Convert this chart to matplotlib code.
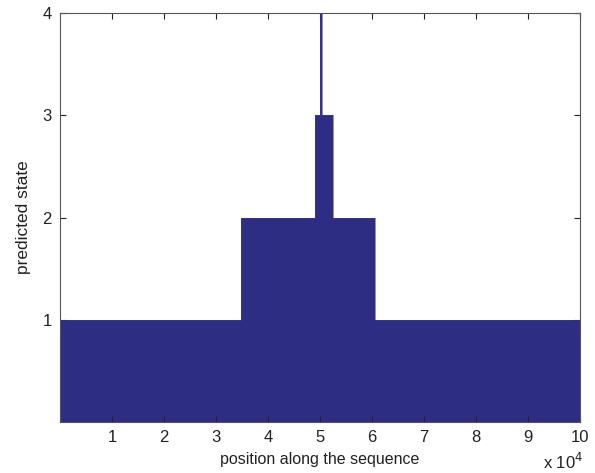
import numpy as np
import matplotlib.pyplot as plt

plt.rcParams['font.family'] = ['Liberation Sans', 'DejaVu Sans']

# segment boundaries along the sequence and the predicted state in each segment
edges = [0, 34800, 49000, 50000, 50350, 52500, 60600, 100000]
states = [1, 2, 3, 4, 3, 2, 1]

xticks = [10000, 20000, 30000, 40000, 50000, 60000, 70000, 80000, 90000, 100000]
xticklabels = ["1", "2", "3", "4", "5", "6", "7", "8", "9", "10"]
yticks = [1, 2, 3, 4]

navy = "#2e2d84"

fig = plt.figure(figsize=(5.95, 4.73), dpi=100)
ax = fig.add_axes([0.1008, 0.1078, 0.8742, 0.8647])

x = np.array(edges)
y = np.array(states + [states[-1]])
ax.fill_between(x, 0, y, step="post", color=navy, linewidth=0)
ax.step(x, y, where="post", color="#3b3b96", linewidth=0.4)

ax.set_xlim(0, 100000)
ax.set_ylim(0, 4)
ax.set_xticks(xticks)
ax.set_xticklabels(xticklabels)
ax.set_yticks(yticks)
ax.tick_params(direction="in", length=4, width=0.8, labelsize=12,
               colors="#222222", pad=6, top=True, right=True)
for s in ax.spines.values():
    s.set_color("#555555")
    s.set_linewidth(0.8)

ax.set_xlabel("position along the sequence", fontsize=11.5, color="#222222", labelpad=5)
ax.set_ylabel("predicted state", fontsize=12.5, color="#222222", labelpad=8)
fig.text(0.912, 0.008, "x 10$^{4}$", fontsize=12, color="#222222")

fig.savefig("out.png", dpi=100)
